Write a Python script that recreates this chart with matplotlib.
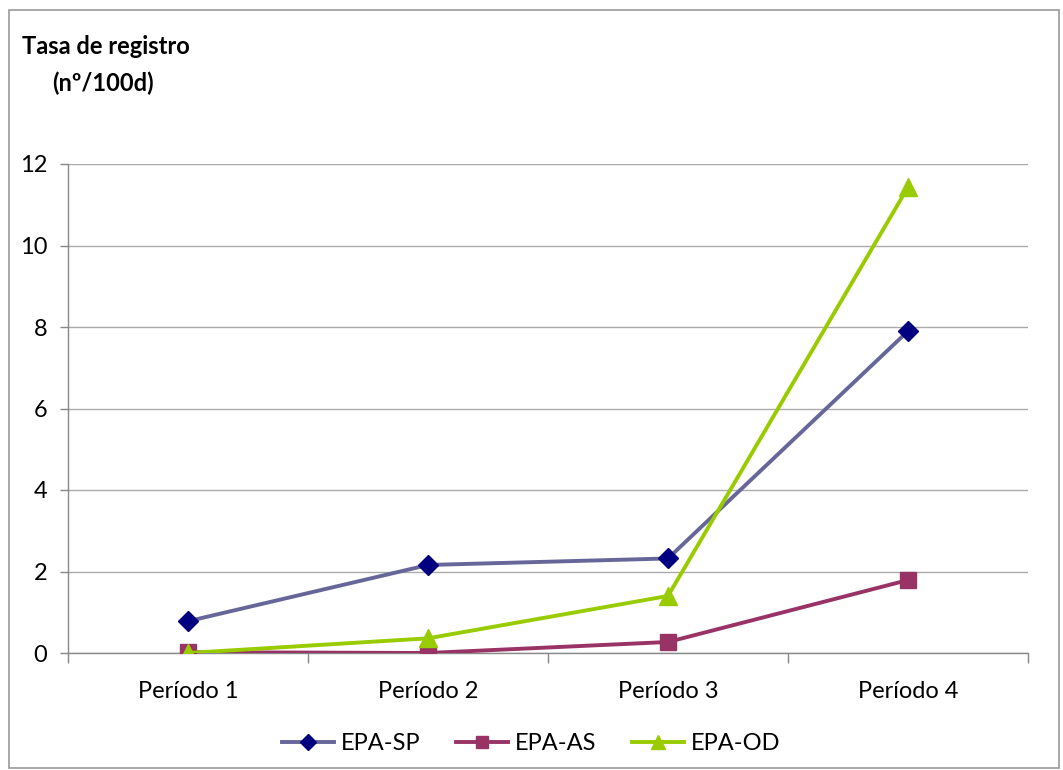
import matplotlib
matplotlib.use("Agg")
import matplotlib.pyplot as plt
from matplotlib.patches import Rectangle

categories = ["Período 1", "Período 2", "Período 3", "Período 4"]
epa_sp = [0.78, 2.16, 2.32, 7.9]
epa_as = [0.02, 0.0, 0.27, 1.79]
epa_od = [0.0, 0.36, 1.40, 11.43]
yticks = [0, 2, 4, 6, 8, 10, 12]

plt.rcParams['font.family'] = ['Lato', 'DejaVu Sans']

fig = plt.figure(figsize=(10.63, 7.70), dpi=100)
ax = fig.add_axes([68/1063, 1-653/770, (1028-68)/1063, (653-164)/770])

x = list(range(len(categories)))
ax.plot(x, epa_sp, color="#666699", lw=2.8, marker="D", ms=10,
        mfc="#000080", mec="#000080", label="EPA-SP", zorder=3)
ax.plot(x, epa_as, color="#993366", lw=2.8, marker="s", ms=11,
        mfc="#993366", mec="#993366", label="EPA-AS", zorder=3)
ax.plot(x, epa_od, color="#99CC00", lw=2.8, marker="^", ms=13,
        mfc="#99CC00", mec="#99CC00", label="EPA-OD", zorder=4)

ax.set_xlim(-0.5, len(categories) - 0.5)
ax.set_ylim(0, 12)
ax.set_yticks(yticks)
ax.set_yticklabels([str(v) for v in yticks], fontsize=17)
ax.set_xticks(x)
ax.set_xticklabels(categories, fontsize=17)
ax.tick_params(axis='x', length=0, pad=20)
ax.set_xticks([i - 0.5 for i in range(len(categories) + 1)], minor=True)
ax.tick_params(axis='x', which='minor', length=7, color="#888888", width=1)
ax.tick_params(axis='y', length=6, color="#888888", width=1, pad=9)
ax.grid(axis='y', color="#AAAAAA", lw=1)
ax.set_axisbelow(True)
for s in ['top', 'right']:
    ax.spines[s].set_visible(False)
for s in ['left', 'bottom']:
    ax.spines[s].set_color("#888888")
    ax.spines[s].set_linewidth(1)

fig.text(22/1063, 1-47/770, "Tasa de registro", fontsize=17, fontweight='bold', va='center', ha='left')
fig.text(52/1063, 1-83/770, "(nº/100d)", fontsize=17, fontweight='bold', va='center', ha='left')

leg = fig.legend(loc='center', bbox_to_anchor=(0.5, 1-744/770), ncol=3, frameon=False,
                 fontsize=17, handlelength=2.2, columnspacing=1.5, handletextpad=0.3,
                 markerscale=0.8)

fig.patches.append(Rectangle((9/1063, 0.002), 1 - 9/1063 - 0.004, 1 - 10/770 - 0.002,
                             transform=fig.transFigure, fill=False, ec="#999999", lw=1.2))

fig.savefig("out.png", dpi=100)
